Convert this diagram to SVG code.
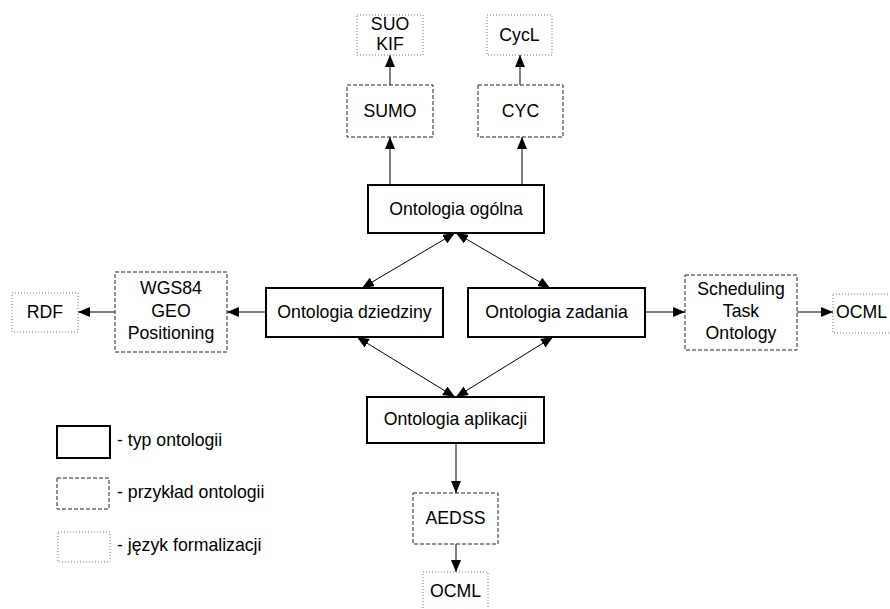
<svg xmlns="http://www.w3.org/2000/svg" width="890" height="609" viewBox="0 0 890 609">
  <style>
    text { font-family: "Liberation Sans", Arial, sans-serif; font-size: 17.7px; fill: #000; text-anchor: middle; }
    .legend { text-anchor: start; }
    .type { fill: #fff; stroke: #000; stroke-width: 2; }
    .example { fill: #fff; stroke: #222; stroke-width: 1; stroke-dasharray: 4 2; }
    .lang { fill: #fff; stroke: #777; stroke-width: 1; stroke-dasharray: 1 2; }
    .conn { fill: none; stroke: #000; stroke-width: 1; }
  </style>
  <defs>
    <marker id="arrow" viewBox="0 0 12 10" refX="12" refY="5" markerWidth="12" markerHeight="10" markerUnits="userSpaceOnUse" orient="auto-start-reverse">
      <path d="M0,0 L12,5 L0,10 z" fill="#000"/>
    </marker>
  </defs>
  <rect width="890" height="609" fill="#fff"/>

  <g id="connectors">
    <line class="conn" x1="390" y1="185" x2="390" y2="137" marker-end="url(#arrow)"/>
    <line class="conn" x1="390" y1="85" x2="390" y2="55" marker-end="url(#arrow)"/>
    <line class="conn" x1="522" y1="185" x2="522" y2="137" marker-end="url(#arrow)"/>
    <line class="conn" x1="520" y1="85" x2="520" y2="55" marker-end="url(#arrow)"/>
    <line class="conn" x1="362" y1="288" x2="455" y2="233" marker-start="url(#arrow)" marker-end="url(#arrow)"/>
    <line class="conn" x1="550" y1="288" x2="456" y2="233" marker-start="url(#arrow)" marker-end="url(#arrow)"/>
    <line class="conn" x1="357" y1="337" x2="455" y2="397" marker-start="url(#arrow)" marker-end="url(#arrow)"/>
    <line class="conn" x1="553" y1="337" x2="456" y2="397" marker-start="url(#arrow)" marker-end="url(#arrow)"/>
    <line class="conn" x1="266" y1="312" x2="227" y2="312" marker-end="url(#arrow)"/>
    <line class="conn" x1="115" y1="312" x2="78" y2="312" marker-end="url(#arrow)"/>
    <line class="conn" x1="645" y1="312" x2="685" y2="312" marker-end="url(#arrow)"/>
    <line class="conn" x1="797" y1="312" x2="833" y2="312" marker-end="url(#arrow)"/>
    <line class="conn" x1="456" y1="443" x2="456" y2="493" marker-end="url(#arrow)"/>
    <line class="conn" x1="456" y1="544" x2="456" y2="572" marker-end="url(#arrow)"/>
  </g>

  <g id="suo-kif">
    <rect class="lang" x="357" y="15" width="66" height="40"/>
    <text x="390" y="30">SUO</text>
    <text x="390" y="50">KIF</text>
  </g>
  <g id="cycl">
    <rect class="lang" x="487" y="15" width="65" height="40"/>
    <text x="519.5" y="41">CycL</text>
  </g>
  <g id="sumo">
    <rect class="example" x="347" y="85" width="86" height="52"/>
    <text x="390" y="117">SUMO</text>
  </g>
  <g id="cyc">
    <rect class="example" x="478" y="85" width="85" height="52"/>
    <text x="520.5" y="117">CYC</text>
  </g>
  <g id="ontologia-ogolna">
    <rect class="type" x="368" y="185" width="176" height="48"/>
    <text x="456" y="215">Ontologia ogólna</text>
  </g>
  <g id="ontologia-dziedziny">
    <rect class="type" x="266" y="288" width="177" height="49"/>
    <text x="354.5" y="318">Ontologia dziedziny</text>
  </g>
  <g id="ontologia-zadania">
    <rect class="type" x="468" y="288" width="177" height="49"/>
    <text x="556.5" y="318">Ontologia zadania</text>
  </g>
  <g id="wgs84">
    <rect class="example" x="115" y="272" width="112" height="80"/>
    <text x="171" y="294">WGS84</text>
    <text x="171" y="317">GEO</text>
    <text x="171" y="339">Positioning</text>
  </g>
  <g id="rdf">
    <rect class="lang" x="12" y="293" width="66" height="39"/>
    <text x="45" y="318">RDF</text>
  </g>
  <g id="scheduling">
    <rect class="example" x="685" y="275" width="112" height="75"/>
    <text x="741" y="295">Scheduling</text>
    <text x="741" y="317">Task</text>
    <text x="741" y="339">Ontology</text>
  </g>
  <g id="ocml-right">
    <rect class="lang" x="833" y="294" width="70" height="39"/>
    <text x="836" y="318" class="legend">OCML</text>
  </g>
  <g id="ontologia-aplikacji">
    <rect class="type" x="367" y="397" width="177" height="46"/>
    <text x="455.5" y="425">Ontologia aplikacji</text>
  </g>
  <g id="aedss">
    <rect class="example" x="413" y="493" width="85" height="51"/>
    <text x="455.5" y="524">AEDSS</text>
  </g>
  <g id="ocml-bottom">
    <rect class="lang" x="423" y="572" width="65" height="40"/>
    <text x="455.5" y="597">OCML</text>
  </g>

  <g id="legend">
    <rect class="type" x="57" y="426" width="53" height="32"/>
    <text class="legend" x="117" y="446">- typ ontologii</text>
    <rect class="example" x="57" y="478" width="52" height="31"/>
    <text class="legend" x="117" y="498">- przykład ontologii</text>
    <rect class="lang" x="58" y="532" width="52" height="30"/>
    <text class="legend" x="117" y="551">- język formalizacji</text>
  </g>
</svg>
